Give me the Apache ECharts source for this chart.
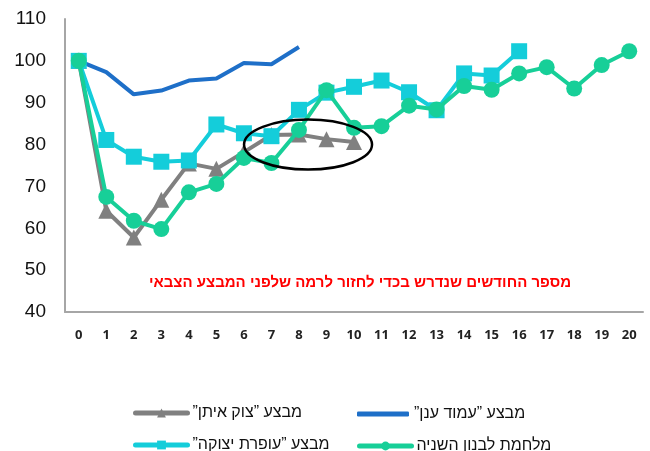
<!DOCTYPE html>
<html>
<head>
<meta charset="utf-8">
<script src="https://cdn.jsdelivr.net/npm/echarts@6/dist/echarts.min.js"></script>
<style>
  html, body { margin: 0; padding: 0; background: #fff; }
  #chart { width: 650px; height: 451px; }
</style>
</head>
<body>
<div id="chart"></div>
<script>
// Months since the start of each operation (x axis)
const months = ['0','1','2','3','4','5','6','7','8','9','10','11','12','13','14','15','16','17','18','19','20'];

// Index values (level before the operation = 100)
const pillarOfDefense = [100, 97.3, 92, 92.9, 95.3, 95.8, 99.5, 99.2, 103.3];
const protectiveEdge  = [100, 64.2, 57.8, 66.8, 75.5, 74.2, 78.2, 82.3, 82.4, 81.3, 80.6];
const castLead        = [100, 81.1, 77.1, 75.9, 76.2, 84.8, 82.7, 82, 88.3, 92.4, 93.8, 95.3, 92.5, 88.2, 97, 96.5, 102.3];
const lebanonWar2     = [100, 67.5, 61.8, 59.8, 68.6, 70.6, 76.8, 75.6, 83.5, 93, 84, 84.4, 89.3, 88.4, 94, 93.1, 97, 98.5, 93.4, 99, 102.3];

// Right-to-left marks keep the quotation marks on the correct side
const RLM = '\u200F';
const names = {
  pillar: RLM + 'מבצע ”עמוד ענן”' + RLM,
  edge: RLM + 'מבצע ”צוק איתן”' + RLM,
  lead: RLM + 'מבצע ”עופרת יצוקה”' + RLM,
  lebanon: RLM + 'מלחמת לבנון השניה' + RLM
};
const noteText = 'מספר החודשים שנדרש בכדי לחזור לרמה שלפני המבצע הצבאי';

const colors = {
  pillar: '#1e6fc8',
  edge: '#808080',
  lead: '#14cdda',
  lebanon: '#17cf98'
};

const hebFont = '"Liberation Sans", Arial, "DejaVu Sans", sans-serif';

const chart = echarts.init(document.getElementById('chart'), null, { renderer: 'canvas' });

function legendAt(name, left, top, extra) {
  return Object.assign({
    data: [name],
    left: left,
    top: top,
    itemWidth: 52,
    itemHeight: 11,
    itemGap: 0,
    lineStyle: { width: 5, cap: 'round' },
    textStyle: { fontFamily: hebFont, fontSize: 16, color: '#111' },
    selectedMode: false
  }, extra || {});
}

const option = {
  animation: false,
  backgroundColor: '#fff',
  grid: { left: 65, right: 7, top: 19, bottom: 139, containLabel: false },
  legend: [
    legendAt(names.edge, 128, 400),
    legendAt(names.pillar, 352, 401, { icon: 'roundRect', itemHeight: 5 }),
    legendAt(names.lead, 128, 432),
    legendAt(names.lebanon, 352, 433)
  ],
  xAxis: {
    type: 'category',
    data: months,
    boundaryGap: true,
    axisLine: { lineStyle: { color: '#a6a6a6', width: 2 } },
    axisTick: { show: false },
    axisLabel: {
      margin: 17,
      fontFamily: '"Open Sans", "Noto Sans", sans-serif',
      fontWeight: 'bold',
      fontSize: 13,
      color: '#222',
      interval: 0
    }
  },
  yAxis: {
    type: 'value',
    min: 40,
    max: 110,
    interval: 10,
    axisLine: { show: true, lineStyle: { color: '#a6a6a6', width: 2 } },
    axisTick: { show: false },
    splitLine: { show: false },
    axisLabel: {
      margin: 19,
      fontFamily: '"Liberation Sans", Arial, sans-serif',
      fontSize: 19,
      color: '#111'
    }
  },
  series: [
    {
      name: names.pillar,
      type: 'line',
      data: pillarOfDefense,
      showSymbol: false,
      symbol: 'none',
      lineStyle: { color: colors.pillar, width: 4 },
      itemStyle: { color: colors.pillar },
      z: 2
    },
    {
      name: names.edge,
      type: 'line',
      data: protectiveEdge,
      symbol: 'triangle',
      symbolSize: 16,
      lineStyle: { color: colors.edge, width: 4 },
      itemStyle: { color: colors.edge },
      z: 3
    },
    {
      name: names.lead,
      type: 'line',
      data: castLead,
      symbol: 'rect',
      symbolSize: 16,
      lineStyle: { color: colors.lead, width: 4 },
      itemStyle: { color: colors.lead },
      z: 4
    },
    {
      name: names.lebanon,
      type: 'line',
      data: lebanonWar2,
      symbol: 'circle',
      symbolSize: 16,
      lineStyle: { color: colors.lebanon, width: 4 },
      itemStyle: { color: colors.lebanon },
      z: 5
    }
  ]
};

chart.setOption(option);

// Highlight ring around the late "Protective Edge" plateau (between months 8 and 9)
const p8 = chart.convertToPixel({ gridIndex: 0 }, [8, 80]);
const p9 = chart.convertToPixel({ gridIndex: 0 }, [9, 80]);
const cx = p8[0] + 0.33 * (p9[0] - p8[0]);
const cy = p8[1];

chart.setOption({
  graphic: [
    {
      type: 'ellipse',
      shape: { cx: cx, cy: cy, rx: 64, ry: 25 },
      style: { fill: 'none', stroke: '#000', lineWidth: 2.5 },
      z: 100
    },
    {
      type: 'text',
      x: 360,
      y: 283,
      style: {
        text: noteText,
        fill: '#ff0000',
        font: 'bold 15px ' + hebFont,
        align: 'center',
        verticalAlign: 'middle'
      },
      z: 100
    }
  ]
});
</script>
</body>
</html>
